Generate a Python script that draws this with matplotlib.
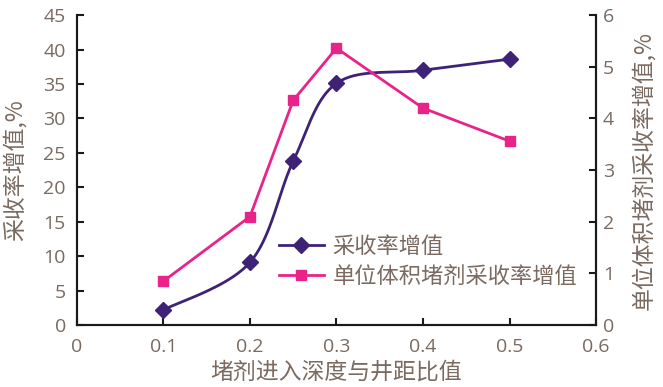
import numpy as np
import matplotlib
matplotlib.use("Agg")
import matplotlib.pyplot as plt
from matplotlib.lines import Line2D

plt.rcParams['font.family'] = ['Noto Sans CJK SC', 'DejaVu Sans']

x_vals = [0.1, 0.2, 0.25, 0.3, 0.4, 0.5]
recovery_increase = [2.2, 9.1, 23.8, 35.1, 37.0, 38.6]
unit_recovery_increase = [0.85, 2.1, 4.35, 5.36, 4.2, 3.56]

xticks = [0, 0.1, 0.2, 0.3, 0.4, 0.5, 0.6]
xticklabels = ['0', '0.1', '0.2', '0.3', '0.4', '0.5', '0.6']
lticks = list(range(0, 50, 5))
rticks = list(range(0, 7))

purple = '#3d2278'
magenta = '#e8238a'
txtc = '#7a6a60'

fig = plt.figure(figsize=(6.63, 3.87), dpi=100)
ax = fig.add_axes([0.116, 0.160, 0.783, 0.801])
ax2 = ax.twinx()

ax.set_xlim(0, 0.6)
ax.set_ylim(0, 45)
ax2.set_ylim(0, 6)


def smooth(xs, ys, xr, yr, n=40):
    # Excel-like smoothed line: Bezier segments with Catmull-Rom style control points in normalized space
    px = np.array(xs) / xr
    py = np.array(ys) / yr
    pts = np.column_stack([px, py])
    out = []
    m = len(pts)
    for i in range(m - 1):
        p0 = pts[i - 1] if i > 0 else pts[i]
        p1 = pts[i]
        p2 = pts[i + 1]
        p3 = pts[i + 2] if i + 2 < m else pts[i + 1]
        c1 = p1 + (p2 - p0) / 6.0
        c2 = p2 - (p3 - p1) / 6.0
        t = np.linspace(0, 1, n)[:, None]
        seg = ((1 - t) ** 3) * p1 + 3 * ((1 - t) ** 2) * t * c1 + 3 * (1 - t) * t ** 2 * c2 + t ** 3 * p2
        out.append(seg if i == 0 else seg[1:])
    out = np.vstack(out)
    return out[:, 0] * xr, out[:, 1] * yr

sx, sy = smooth(x_vals, recovery_increase, 0.6, 45 * 0.6)
ax.plot(sx, sy, color=purple, lw=2.0, zorder=3)
ax.plot(x_vals, recovery_increase, ls='none', marker='D', ms=8.5, color=purple, zorder=4)
ax2.plot(x_vals, unit_recovery_increase, color=magenta, lw=2.0, marker='s', ms=7.5, zorder=3)

for a in (ax, ax2):
    a.spines['top'].set_visible(False)
    for s in a.spines.values():
        s.set_linewidth(1.5)
        s.set_color('#1a1a1a')

ax.set_xticks(xticks)
ax.set_xticklabels(xticklabels)
ax.set_yticks(lticks)
ax2.set_yticks(rticks)
ax.tick_params(axis='both', direction='in', length=5, width=1.5, colors='#1a1a1a', labelcolor=txtc, labelsize=14)
ax.tick_params(axis='x', pad=9)
ax.tick_params(axis='y', pad=8)
ax2.tick_params(axis='y', direction='in', length=5, width=1.5, colors='#1a1a1a', labelcolor=txtc, labelsize=14, pad=5)
for lab in ax.get_xticklabels() + ax.get_yticklabels() + ax2.get_yticklabels():
    lab.set_family(['Open Sans', 'DejaVu Sans'])

ax.set_xlabel('堵剂进入深度与井距比值', color=txtc, fontsize=16.5)
ax.set_ylabel('采收率增值,%', color=txtc, fontsize=16.5)
ax2.set_ylabel('单位体积堵剂采收率增值,%', color=txtc, fontsize=16.5, rotation=90)
ax.xaxis.set_label_coords(0.5, -0.115)
ax.yaxis.set_label_coords(-0.12, 0.5)
ax2.yaxis.set_label_coords(1.092, 0.5)
ax.xaxis.label.set_va('top')
ax.yaxis.label.set_va('center')
ax2.yaxis.label.set_va('center')

handles = [Line2D([], [], color=purple, lw=2.0, marker='D', ms=8.5),
           Line2D([], [], color=magenta, lw=2.0, marker='s', ms=7.5)]
leg = ax.legend(handles, ['采收率增值', '单位体积堵剂采收率增值'], loc='lower left',
                bbox_to_anchor=(0.368, 0.085), frameon=False, fontsize=16,
                handlelength=2.0, handletextpad=0.4, labelspacing=0.3, borderpad=0)
for t in leg.get_texts():
    t.set_color(txtc)

fig.savefig('out.png', dpi=100)
